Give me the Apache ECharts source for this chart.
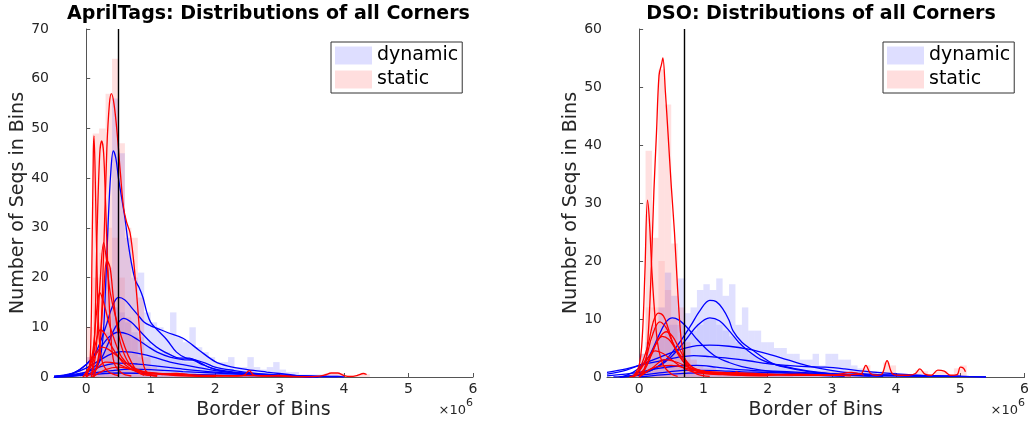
<!DOCTYPE html>
<html><head><meta charset="utf-8">
<script src="https://cdn.jsdelivr.net/npm/echarts@6/dist/echarts.min.js"></script>
<style>html,body{margin:0;padding:0;background:#fff}#c{width:1032px;height:425px}</style>
</head><body><div id="c"></div>
<script>
// ---------- data (x in units of 10^6) ----------
const titles = ['AprilTags: Distributions of all Corners', 'DSO: Distributions of all Corners'];
const yMaxes = [70, 60];
const xTicks = [0, 1, 2, 3, 4, 5, 6];
const thresholds = [0.5, 0.7];
const binWidth = 0.1;

// AprilTags histograms
const aprilBlueStart = -0.1;
const aprilBlueOuter = [1,4,6,10,22,56,45,28,20,21,13,11,10,9,13,8,7,10,6,5,4,3,3,4,2,2,4,2,1.5,2,3,1.5,1,1,0.5,0.5,0.5,0.5,0.5,0.5,0.5];
const aprilBlueInner = [0.5,2,3,5,9,14,13,11,9,8,7,6,5,5,4,4,3,3,2.5,2,1.5,1.5,1,1,1,0.5,0.5,0.5,0.5,0.5,0.5];
const aprilRedStart = -0.1;
const aprilRedOuter = [2,10,49,50,57,64,47,30,28,16,4,2,1.5,1,1,1,0.8,0.8,0.5,0.5,0.5,0.5,0.3,0.3,0.3,0.3,1.5,0.3,0.3,0.3,0.3,0.5,0.3,0.2,0.2,0.2,0.2,0.2,0.8,0.8,0.8,0.3,0.3,0.6,0.6];
const aprilRedInner = [0.5,4,20,25,30,28,20,12,8,4,2,1,0.5,0.5,0.5,0.3,0.3,0.3];

// DSO histograms
const dsoBlueStart = -0.2;
const dsoBlueOuter = [0.5,1,4,6,9,12,18,14,17,11,12,15,16,15,17,14,16,9,12,8,8,6,6,5,5,4,4,3,3,4,2,4,4,3,3,2,1.5,1,1,1,0.8,0.8,0.5,0.5,0.5,0.5,0.3,0.3];
const dsoBlueInner = [0.2,0.5,2,3,5,7,9,9,9,8,8,9,10,10,9,8,7,6,5,4,3.5,3,2.5,2,2,1.5,1.5,1,1,1,1,1,1,0.5,0.5,0.5,0.5,0.5];
const dsoRedStart = -0.1;
const dsoRedOuter = [1,4,39,24,53,47,23,12,6,3,2,1.5,1.5,1,1,1,1,1,1,1,1,1,1,1,1,1,1,1,1,1,1,1,1,1,1,0.8,2,1,0.5,2.5,2,0.5,0.3,0.3,1.2,1,0.3,1,1,0.3,1.5,2];
const dsoRedInner = [0.5,2,12,12,20,15,10,6,3,1.5,1,0.8,0.8,0.5,0.5,0.5,0.5,0.5,0.5,0.5,0.5,0.5,0.5,0.5,0.5];

// AprilTags density curves (static = red, dynamic = blue)
const aprilRedCurves = [
 [[0.1,0],[0.2,4],[0.27,25],[0.32,46],[0.36,55],[0.39,57],[0.43,55],[0.48,49],[0.53,41],[0.58,34],[0.63,31],[0.68,29],[0.73,24],[0.78,17],[0.83,9],[0.88,3],[0.95,0.8],[1.1,0.2]],
 [[0.0,0],[0.06,3],[0.09,25],[0.11,45],[0.12,48.5],[0.14,40],[0.17,20],[0.2,8],[0.25,3],[0.35,1],[0.5,0.3]],
 [[0.08,0],[0.13,8],[0.17,30],[0.21,45],[0.24,47.5],[0.27,45],[0.3,35],[0.34,20],[0.38,9],[0.43,3],[0.55,0.8],[0.7,0.2]],
 [[0.08,0],[0.15,5],[0.21,18],[0.27,27],[0.31,24],[0.36,18],[0.42,14],[0.5,10],[0.6,6],[0.7,3],[0.8,1],[0.9,0.3]],
 [[0.12,0],[0.2,5],[0.27,17],[0.32,23.5],[0.37,22],[0.42,16],[0.48,10],[0.55,6],[0.65,3],[0.8,1],[1.0,0.3]],
 [[0.0,0],[0.1,5],[0.16,13],[0.21,17],[0.27,15],[0.35,11],[0.45,7],[0.55,4],[0.7,2],[0.9,0.8],[1.1,0.3]],
 [[-0.05,0],[0.08,3],[0.15,7],[0.22,9.5],[0.3,8.5],[0.4,6],[0.5,4],[0.6,2.5],[0.75,1.2],[0.9,0.5],[1.1,0.2]],
 [[-0.05,0],[0.05,1.5],[0.15,4.5],[0.25,6],[0.35,5.5],[0.5,4],[0.65,2.5],[0.8,1.5],[1.0,0.8],[1.2,0.5],[1.4,0.3],[1.6,0.2],[2.0,0.1]],
 [[0.0,0],[0.15,1.5],[0.3,3],[0.45,2.8],[0.6,2],[0.8,1.2],[1.0,0.8],[1.2,0.6],[1.4,0.7],[1.6,0.4],[1.8,0.3],[2.0,0.3],[2.3,0.2],[2.45,0.4],[2.53,1.3],[2.6,0.4],[2.8,0.2],[3.0,0.3],[3.2,0.1],[3.5,0.05],[3.7,0.4],[3.8,0.8],[3.9,0.8],[4.0,0.3],[4.1,0.1],[4.2,0.3],[4.3,0.7],[4.35,0.5]],
 [[0.1,0],[0.3,1.5],[0.5,2],[0.7,1.5],[0.9,1],[1.1,0.8],[1.3,0.5],[1.5,0.6],[1.7,0.3],[2.0,0.2],[2.5,0.3],[3.0,0.2],[3.2,0.05]]
];
const aprilBlueCurves = [
 [[-0.5,0],[-0.1,0.3],[0.1,1],[0.2,3],[0.26,8],[0.3,18],[0.34,31],[0.38,41],[0.42,45.5],[0.46,44],[0.5,40],[0.55,36],[0.6,32],[0.65,27],[0.7,23],[0.76,19.5],[0.82,18],[0.88,16],[0.94,13],[1.0,11],[1.1,9.5],[1.25,7.5],[1.4,5],[1.55,3.8],[1.7,3.4],[1.85,2.8],[2.0,2],[2.3,1.3],[2.6,0.8],[3.0,0.4],[3.4,0.1],[3.6,0]],
 [[-0.5,0],[-0.2,0.8],[0,2.5],[0.15,5],[0.3,10],[0.4,14],[0.5,16],[0.6,15.5],[0.7,14],[0.8,12.5],[0.9,11],[1.0,10.3],[1.1,9.8],[1.25,9],[1.5,7.8],[1.75,5.4],[2.0,3.1],[2.2,2.2],[2.5,1.5],[2.8,1],[3.0,0.7],[3.2,0.4],[3.4,0.1],[3.5,0]],
 [[-0.5,0],[-0.2,0.3],[0,1],[0.2,3],[0.35,7],[0.45,10],[0.58,11.8],[0.7,11],[0.85,9],[1.0,7],[1.15,5.5],[1.3,4.5],[1.45,3.8],[1.6,3.8],[1.75,3],[1.9,2],[2.1,1.2],[2.4,0.7],[2.8,0.3],[3.2,0.1]],
 [[-0.5,0],[-0.2,0.8],[0,2.5],[0.2,5.5],[0.35,8],[0.5,9],[0.65,8.6],[0.8,7.5],[0.95,6.2],[1.1,5],[1.3,4],[1.5,3.5],[1.65,3.4],[1.8,2.5],[2.0,1.6],[2.3,1],[2.7,0.5],[3.1,0.2],[3.5,0]],
 [[-0.5,0.1],[-0.2,0.8],[0,1.8],[0.2,3.3],[0.4,4.7],[0.55,5.1],[0.7,5],[0.9,4.5],[1.1,3.8],[1.3,3],[1.5,2.5],[1.7,2],[2.0,1.3],[2.4,0.8],[2.8,0.4],[3.2,0.2],[3.6,0.05]],
 [[-0.5,0.1],[0,1],[0.25,2.2],[0.5,2.8],[0.8,2.6],[1.1,2.2],[1.5,1.6],[2.0,1],[2.5,0.6],[3.0,0.3],[3.5,0.1],[3.9,0.05]],
 [[-0.5,0.05],[0,0.6],[0.4,1.3],[0.7,1.6],[1.0,1.5],[1.5,1.1],[2.0,0.8],[2.5,0.5],[3.0,0.3],[3.5,0.2],[3.9,0.1],[4.0,0]],
 [[-0.5,0.1],[0,0.4],[0.5,0.8],[1.0,0.7],[2,0.4],[3,0.2],[3.5,0.1]]
];

// DSO density curves
const dsoRedCurves = [
 [[0,0],[0.08,1],[0.14,7],[0.19,19],[0.23,32],[0.27,42],[0.31,52],[0.35,54],[0.37,55],[0.41,49],[0.45,42],[0.5,33],[0.55,25],[0.6,15],[0.65,7],[0.7,3.5],[0.78,1.5],[0.9,0.5],[1.1,0.1]],
 [[-0.1,0],[0,2],[0.05,7],[0.09,18],[0.13,30.5],[0.16,27],[0.2,18],[0.25,10],[0.3,5],[0.38,2],[0.5,0.5],[0.6,0.1]],
 [[-0.15,0],[-0.05,0.5],[0.05,2.5],[0.15,6],[0.22,9.5],[0.3,11],[0.38,10.5],[0.45,8.5],[0.52,6],[0.6,4],[0.7,2.5],[0.8,1.5],[1.0,0.8],[1.3,0.5],[1.6,0.3],[2.0,0.2]],
 [[-0.1,0],[0.0,1],[0.1,3],[0.2,7],[0.32,9.5],[0.42,8.5],[0.5,6.5],[0.6,4.3],[0.7,2.5],[0.85,1.2],[1.0,0.7],[1.3,0.5],[1.7,0.5],[2.2,0.4],[2.6,0.3]],
 [[0,0],[0.1,1.5],[0.2,4],[0.3,6.5],[0.42,7.8],[0.52,7],[0.62,5],[0.72,3],[0.85,1.5],[1.0,1],[1.3,0.8],[1.6,0.7],[2.0,0.5],[2.5,0.4],[3.0,0.3],[3.3,0.2]],
 [[-0.1,0],[0.05,1],[0.15,3],[0.25,5.5],[0.36,7],[0.46,6.5],[0.56,5],[0.66,3.5],[0.76,2.2],[0.9,1.3],[1.1,0.8],[1.4,0.6],[1.8,0.5]],
 [[-0.1,0],[0.0,1],[0.12,3],[0.25,4.5],[0.38,4],[0.5,3],[0.65,1.8],[0.8,1],[1.0,0.6],[1.3,0.4],[1.6,0.3]],
 [[0,0],[0.2,1.5],[0.4,3],[0.6,2.5],[0.8,1.5],[1.0,1],[1.2,0.6],[1.45,0.5],[1.52,0.9],[1.6,0.4],[2.0,0.3],[2.5,0.5],[3.0,0.3],[3.3,0.8],[3.5,0.3]],
 [[0.0,0],[0.2,1.5],[0.5,2],[0.8,1.3],[1.0,0.9],[1.3,0.7],[1.6,0.5],[2.0,0.4],[2.5,0.3],[3.0,0.3],[3.3,0.4],[3.45,0.5],[3.53,2],[3.6,0.6],[3.7,0.3],[3.78,0.5],[3.86,2.8],[3.94,0.6],[4.05,0.3],[4.2,0.3],[4.3,0.6],[4.37,1.4],[4.45,0.5],[4.55,0.3],[4.65,1.2],[4.75,1],[4.85,0.3],[4.95,0.4],[5.0,1.7],[5.05,1.5],[5.08,0.9]]
];
const dsoBlueCurves = [
 [[-0.3,0],[0,0.5],[0.2,1.2],[0.4,2.8],[0.6,5.5],[0.8,8.8],[0.95,11.5],[1.1,13.2],[1.2,13],[1.3,11.8],[1.4,9.8],[1.46,8],[1.6,6],[1.77,4.6],[1.95,3.2],[2.13,2.1],[2.5,1.2],[2.9,0.6],[3.3,0.3],[3.8,0.1]],
 [[-0.3,0],[0,0.4],[0.3,1.8],[0.5,3.5],[0.7,6],[0.9,8.8],[1.1,10.2],[1.25,9.7],[1.4,8],[1.55,6],[1.7,4.5],[1.9,3],[2.1,2.2],[2.4,1.5],[2.8,0.8],[3.2,0.4],[3.6,0.2]],
 [[-0.4,0],[-0.2,0.3],[0,1.5],[0.15,3.5],[0.3,7],[0.42,9.5],[0.52,10.2],[0.62,9.8],[0.75,8.5],[0.9,6.5],[1.05,4.8],[1.2,3.5],[1.4,2.5],[1.6,1.8],[1.9,1.2],[2.3,0.7],[2.8,0.3],[3.2,0.1]],
 [[-0.5,0.5],[-0.2,1.2],[0,2],[0.3,3.3],[0.6,4.6],[0.9,5.4],[1.1,5.5],[1.4,5.3],[1.7,4.8],[2.0,4],[2.3,3],[2.6,2],[2.9,1.3],[3.2,0.8],[3.6,0.5],[4.0,0.3],[4.5,0.2],[5.0,0.1],[5.4,0]],
 [[-0.5,0.8],[-0.2,1.4],[0,2],[0.3,2.7],[0.6,3.4],[0.85,3.7],[1.1,3.5],[1.4,3.2],[1.7,2.8],[2.0,2.3],[2.3,2],[2.6,1.8],[2.9,1.7],[3.2,1.4],[3.5,1],[3.8,0.7],[4.2,0.4],[4.6,0.2],[5.0,0.1],[5.4,0]],
 [[-0.5,0.2],[0,0.8],[0.3,1.5],[0.6,1.9],[0.9,2],[1.2,1.7],[1.5,1.3],[1.8,1.1],[2.1,1],[2.5,0.8],[3,0.5],[3.5,0.3],[4,0.2],[4.5,0.1]],
 [[-0.3,0],[0,0.3],[0.4,0.8],[0.8,1.2],[1.2,1.1],[1.6,0.9],[2.0,0.8],[2.5,0.6],[3.0,0.5],[3.5,0.4],[4.0,0.3],[4.6,0.2],[5.0,0.1]],
 [[0.0,0],[0.5,0.5],[1.0,0.7],[2.0,0.5],[3.0,0.3],[4.0,0.2],[5.0,0.1]]
];

// ---------- chart ----------
const FONT = 'DejaVu Sans';
const BLUE_FILL = 'rgba(0,0,255,0.12)';
const RED_FILL = 'rgba(255,0,0,0.12)';
const BLUE_INNER = 'rgba(0,0,255,0.08)';
const RED_INNER = 'rgba(255,0,0,0.08)';
const grids = [
  {left: 54, top: 29, width: 419, height: 348},
  {left: 607, top: 29, width: 418, height: 348}
];

function histData(start, values) {
  return values.map((v, i) => [start + i * binWidth, start + (i + 1) * binWidth, v]);
}
function histSeries(name, idx, start, values, color) {
  return {
    type: 'custom', name: name, xAxisIndex: idx, yAxisIndex: idx,
    itemStyle: {color: color}, silent: true, z: 1,
    encode: {x: [0, 1], y: 2},
    data: histData(start, values),
    renderItem: function (params, api) {
      const p0 = api.coord([api.value(0), 0]);
      const p1 = api.coord([api.value(1), api.value(2)]);
      return {type: 'rect', shape: {x: p0[0], y: p1[1], width: p1[0] - p0[0], height: p0[1] - p1[1]},
              style: {fill: color}};
    }
  };
}
function curveSeries(idx, data, color) {
  return {type: 'line', xAxisIndex: idx, yAxisIndex: idx, data: data, smooth: 0.35,
    showSymbol: false, symbol: 'none', silent: true, z: 3,
    lineStyle: {color: color, width: 1.3}};
}

const series = [];
const panels = [
  {bs: aprilBlueStart, bo: aprilBlueOuter, bi: aprilBlueInner, rs: aprilRedStart, ro: aprilRedOuter, ri: aprilRedInner, rc: aprilRedCurves, bc: aprilBlueCurves},
  {bs: dsoBlueStart, bo: dsoBlueOuter, bi: dsoBlueInner, rs: dsoRedStart, ro: dsoRedOuter, ri: dsoRedInner, rc: dsoRedCurves, bc: dsoBlueCurves}
];
panels.forEach((p, i) => {
  series.push(histSeries('dynamic', i, p.bs, p.bo, BLUE_FILL));
  series.push(histSeries('static', i, p.rs, p.ro, RED_FILL));
  series.push(histSeries('dyn-inner', i, p.bs, p.bi, BLUE_INNER));
  series.push(histSeries('sta-inner', i, p.rs, p.ri, RED_INNER));
  p.bc.forEach(c => series.push(curveSeries(i, c, '#0000ff')));
  p.rc.forEach(c => series.push(curveSeries(i, c, '#ff0000')));
  series.push({type: 'line', xAxisIndex: i, yAxisIndex: i, data: [], silent: true, z: 5,
    markLine: {silent: true, symbol: 'none', label: {show: false},
      lineStyle: {color: '#000', width: 1.4, type: 'solid'},
      data: [{xAxis: thresholds[i]}]}});
});

const axisColor = '#555';
const option = {
  animation: false,
  backgroundColor: '#fff',
  textStyle: {fontFamily: FONT},
  title: titles.map((t, i) => ({
    text: t, left: grids[i].left + grids[i].width / 2, top: 0, textAlign: 'center',
    textStyle: {fontFamily: FONT, fontWeight: 'bold', fontSize: 19, color: '#000'}
  })),
  grid: grids,
  legend: grids.map((g, i) => ({
    left: i === 0 ? 331 : 883, top: 42, orient: 'vertical',
    itemWidth: 37, itemHeight: 18, itemGap: 5, padding: [4, 4, 4, 4],
    borderColor: '#333', borderWidth: 1, backgroundColor: '#fff',
    selectedMode: false,
    textStyle: {fontFamily: FONT, fontSize: 19, color: '#000'},
    data: [
      {name: 'dynamic', icon: 'rect', itemStyle: {color: 'rgba(0,0,255,0.13)'}},
      {name: 'static', icon: 'rect', itemStyle: {color: 'rgba(255,0,0,0.13)'}}
    ]
  })),
  xAxis: grids.map((g, i) => ({
    type: 'value', gridIndex: i, min: -0.5, max: 6,
    name: 'Border of Bins', nameLocation: 'middle', nameGap: 21,
    nameTextStyle: {fontFamily: FONT, fontSize: 19, color: '#262626'},
    axisLine: {show: true, lineStyle: {color: axisColor, width: 1}},
    axisTick: {show: true, inside: true, length: 4, lineStyle: {color: axisColor}, customValues: xTicks},
    axisLabel: {fontFamily: FONT, fontSize: 14, color: '#262626', margin: 5, customValues: xTicks},
    splitLine: {show: false}
  })),
  yAxis: grids.map((g, i) => ({
    type: 'value', gridIndex: i, min: 0, max: yMaxes[i], interval: 10,
    name: 'Number of Seqs in Bins', nameLocation: 'middle', nameGap: 26,
    nameTextStyle: {fontFamily: FONT, fontSize: 19, color: '#262626'},
    axisLine: {show: true, lineStyle: {color: axisColor, width: 1}},
    axisTick: {show: true, inside: true, length: 4, lineStyle: {color: axisColor}},
    axisLabel: {fontFamily: FONT, fontSize: 14, color: '#262626', margin: 5},
    splitLine: {show: false}
  })),
  graphic: grids.map((g, i) => ({
    type: 'text', right: 1032 - (g.left + g.width), top: 398,
    style: {text: '{a|×10}{b|6}', rich: {
      a: {fontFamily: FONT, fontSize: 13, fill: '#262626', color: '#262626', verticalAlign: 'bottom', padding: [6, 0, 0, 0]},
      b: {fontFamily: FONT, fontSize: 11, fill: '#262626', color: '#262626', verticalAlign: 'top', padding: [0, 0, 6, 0]}
    }}
  })),
  series: series
};
const chart = echarts.init(document.getElementById('c'), null, {renderer: 'canvas'});
chart.setOption(option);
</script></body></html>
